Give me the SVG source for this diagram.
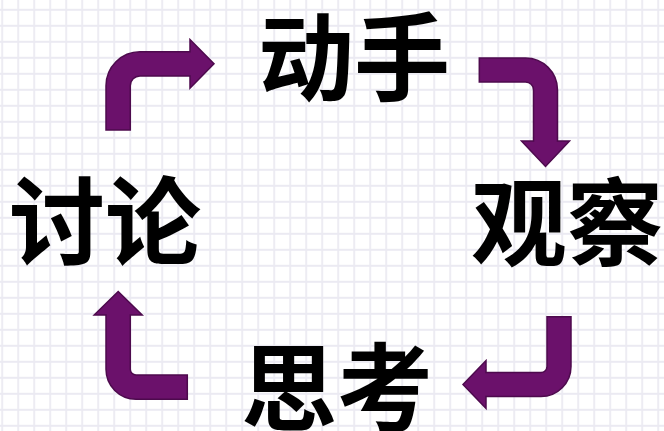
<svg xmlns="http://www.w3.org/2000/svg" width="664" height="431" viewBox="0 0 664 431">
<style>
.lbl{font-family:"Noto Sans CJK SC","Noto Sans CJK TC",sans-serif;font-weight:700;font-size:96px;fill:#000;text-anchor:middle}
.arr{fill:#6b116b;stroke:#4d0a4d;stroke-width:1.5;stroke-linejoin:miter}
</style>
<defs>
<pattern id="grid" x="-5.8" y="1.8" width="16" height="16" patternUnits="userSpaceOnUse">
<path d="M8 0V16M0 8H16" stroke="#ebeaf2" stroke-width="1.8" fill="none"/>
</pattern>
</defs>
<rect width="664" height="431" fill="#ffffff"/>
<rect width="664" height="431" fill="url(#grid)"/>
<g id="connectors">
<path class="arr" d="M106,130 L106,85.7 A34,34 0 0 1 140,51.7 L190,51.7 L190,39.5 L214,63.8 L190,88.2 L190,76 L140,76 A9.7,9.7 0 0 0 130.3,85.7 L130.3,130 Z"/>
<path class="arr" d="M479.3,58 L525.5,58 A32,32 0 0 1 557.5,90 L557.5,141 L569.5,141 L545.5,166.5 L521.5,141 L533.5,141 L533.5,90 A8,8 0 0 0 525.5,82 L479.3,82 Z"/>
<path class="arr" d="M547,316.7 L571,316.7 L571,366.5 A30,30 0 0 1 541,396.5 L486,396.5 L486,408.5 L463,384.5 L486,360.5 L486,372.5 L541,372.5 A6,6 0 0 0 547,366.5 Z"/>
<path class="arr" d="M187.3,399.3 L136,399.3 A30,30 0 0 1 106,369.3 L106,315 L94.2,315 L118.2,291.5 L142.2,315 L130.3,315 L130.3,369.3 A5.7,5.7 0 0 0 136,375 L187.3,375 Z"/>
</g>
<g id="node-dongshou"><text class="lbl" x="354" y="92.5">动手</text></g>
<g id="node-guancha"><text class="lbl" x="567" y="258">观察</text></g>
<g id="node-sikao"><text class="lbl" x="337" y="423">思考</text></g>
<g id="node-taolun"><text class="lbl" x="105" y="256.5">讨论</text></g>
</svg>
